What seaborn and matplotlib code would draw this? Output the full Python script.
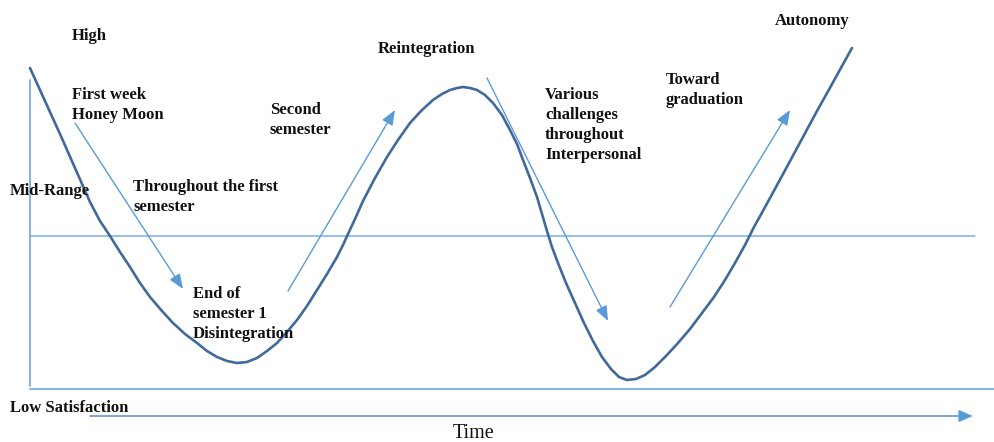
import pandas as pd
import matplotlib
matplotlib.use("Agg")
import matplotlib.pyplot as plt
import seaborn as sns

# adjustment curve (x = time, y = pixel height, downwards)
curve_x = [30, 45, 60, 75, 90, 100, 110, 120, 130, 140, 150, 162, 173, 185, 197,
           207, 217, 227, 237, 247, 257, 267, 277, 287, 297, 307, 317, 327, 337,
           343, 348, 355, 363, 375, 387, 398, 410, 421, 433, 442, 450, 457, 463,
           470, 477, 485, 493, 502, 510, 517, 523, 530, 537, 542, 547, 552, 558,
           566, 575, 584, 593, 602, 611, 619, 627, 636, 645, 655, 666, 678, 690,
           702, 714, 725, 735, 745, 754, 764, 776, 789, 803, 817, 831, 842, 852]
curve_y = [68, 101, 134, 168, 202, 221, 236, 252, 267, 283, 297, 311, 323, 334, 343,
           351, 357, 361, 363, 362, 358, 351, 343, 332, 320, 306, 290, 274, 257,
           245, 234, 219, 201, 178, 157, 140, 123, 111, 100, 94, 90, 88, 87,
           88, 90, 95, 103, 115, 130, 144, 160, 178, 197, 214, 231, 247, 263,
           283, 303, 323, 341, 357, 369, 377, 380, 379, 375, 367, 356, 343, 329,
           313, 297, 280, 263, 245, 227, 209, 187, 163, 137, 111, 86, 66, 48]

# phase arrows (start, end)
arrow_start = [(75, 123), (288, 291), (487, 78), (670, 307)]
arrow_end = [(183, 289), (395, 110), (608, 321), (790, 110)]

labels = ["High", "First week\nHoney Moon", "Mid-Range", "Throughout the first\nsemester",
          "Second\nsemester", "End of\nsemester 1\nDisintegration", "Reintegration",
          "Various\nchallenges\nthroughout\nInterpersonal", "Toward\ngraduation",
          "Autonomy", "Low Satisfaction"]
label_x = [72, 72, 10, 133, 270, 193, 378, 545, 666, 775, 10]
label_y = [28, 87, 183, 179, 102, 286, 41, 87, 72, 13, 400]

sns.set_theme(style="white")
plt.rcParams["font.family"] = ["Liberation Serif", "DejaVu Serif"]

fig = plt.figure(figsize=(9.95, 4.42), dpi=100)
ax = fig.add_axes([0, 0, 1, 1])
ax.set_xlim(0, 995)
ax.set_ylim(442, 0)
ax.axis("off")

line_col = "#7aaee0"
arrow_col = "#5b9bd5"

# frame lines
ax.plot([30, 30], [80, 386], color=line_col, lw=1.3)
ax.plot([30, 995], [389, 389], color=line_col, lw=1.3)
ax.plot([30, 975], [236, 236], color=line_col, lw=1.1)

df = pd.DataFrame({"x": curve_x, "y": curve_y})
sns.lineplot(data=df, x="x", y="y", sort=False, ax=ax, color="#41699a", lw=1.9)

for s, e in zip(arrow_start, arrow_end):
    ax.annotate("", xy=e, xytext=s,
                arrowprops=dict(arrowstyle="-|>,head_length=0.75,head_width=0.3",
                                mutation_scale=12, color=arrow_col, lw=1.0,
                                shrinkA=0, shrinkB=0))

# time arrow
ax.annotate("", xy=(973, 416), xytext=(90, 416),
            arrowprops=dict(arrowstyle="-|>,head_length=0.7,head_width=0.3",
                            mutation_scale=12, color=arrow_col, lw=1.2,
                            shrinkA=0, shrinkB=0))

for t, x, y in zip(labels, label_x, label_y):
    ax.text(x, y, t, ha="left", va="top", fontsize=12, fontweight="bold",
            color="#111111", linespacing=1.33)

ax.text(474, 433, "Time", ha="center", va="center", fontsize=14.5, color="#111111")

ax.set_xlabel("")
ax.set_ylabel("")
fig.savefig("out.png", dpi=100)
